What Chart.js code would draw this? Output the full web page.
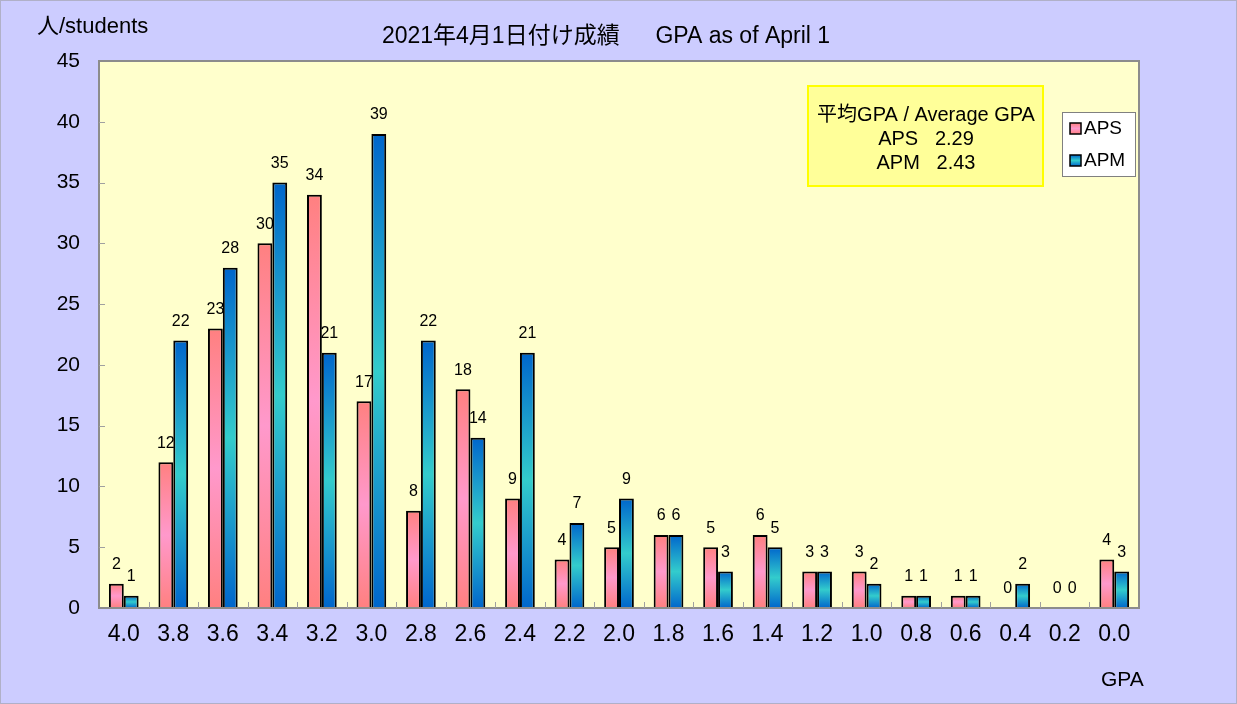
<!DOCTYPE html>
<html>
<head>
<meta charset="utf-8">
<title>GPA as of April 1</title>
<script src="https://cdn.jsdelivr.net/npm/chart.js@4"></script>
<style>
  html, body { margin: 0; padding: 0; background: #ccccff; }
  canvas { display: block; }
</style>
</head>
<body>
<canvas id="gpaChart" width="1237" height="704"></canvas>
<script>
// values
const gpaLabels = ['4.0', '3.8', '3.6', '3.4', '3.2', '3.0', '2.8', '2.6', '2.4', '2.2', '2.0',
                   '1.8', '1.6', '1.4', '1.2', '1.0', '0.8', '0.6', '0.4', '0.2', '0.0'];
const apsCounts = [2, 12, 23, 30, 34, 17, 8, 18, 9, 4, 5, 6, 5, 6, 3, 3, 1, 1, 0, 0, 4];
const apmCounts = [1, 22, 28, 35, 21, 39, 22, 14, 21, 7, 9, 6, 3, 5, 3, 2, 1, 1, 2, 0, 3];
const seriesNames = ['APS', 'APM'];
const averageLines = ['平均GPA / Average GPA', 'APS   2.29', 'APM   2.43'];
const yMax = 45;
const yStep = 5;

const FONT = '"Liberation Sans", Arial, "Noto Sans CJK JP", sans-serif';
const pinkStops = ['#ff8080', '#ff99cc'];
const blueStops = ['#0066cc', '#33cccc'];

// vertical gradient per bar: dark at both ends, light in the middle
const barFill = (stops) => (ctx) => {
    const chart = ctx.chart;
    if (ctx.type !== 'data' || !chart.chartArea) return stops[0];
    const y = chart.scales.y;
    const top = y.getPixelForValue(ctx.raw);
    const base = y.getPixelForValue(0);
    if (base - top < 1) return stops[0];
    const g = chart.ctx.createLinearGradient(0, top, 0, base);
    g.addColorStop(0, stops[0]);
    g.addColorStop(0.5, stops[1]);
    g.addColorStop(1, stops[0]);
    return g;
};

const decorations = {
    id: 'decorations',
    beforeDraw(chart) {
        const c = chart.ctx;
        const a = chart.chartArea;
        c.save();
        c.fillStyle = '#ccccff';
        c.fillRect(0, 0, chart.width, chart.height);
        c.strokeStyle = '#b0b0c8';
        c.lineWidth = 1;
        c.strokeRect(0.5, 0.5, chart.width - 1, chart.height - 1);
        c.fillStyle = '#ffffcc';
        c.fillRect(a.left, a.top, a.right - a.left, a.bottom - a.top);
        c.restore();
    },
    afterDatasetsDraw(chart) {
        const c = chart.ctx;
        c.save();
        c.font = '16px ' + FONT;
        c.fillStyle = '#000';
        c.textAlign = 'center';
        c.textBaseline = 'middle';
        chart.data.datasets.forEach((ds, di) => {
            chart.getDatasetMeta(di).data.forEach((bar, i) => {
                c.fillText(String(ds.data[i]), bar.x, bar.y - 19);
            });
        });
        c.restore();
    },
    afterDraw(chart) {
        const c = chart.ctx;
        const a = chart.chartArea;
        const ys = chart.scales.y;
        c.save();

        // plot frame
        c.strokeStyle = '#8c8c8c';
        c.lineWidth = 2;
        c.strokeRect(a.left, a.top, a.right - a.left, a.bottom - a.top);

        // inward tick marks
        c.lineWidth = 1;
        c.strokeStyle = '#a0a0a0';
        c.beginPath();
        for (let v = yStep; v < yMax; v += yStep) {
            const py = Math.round(ys.getPixelForValue(v)) + 0.5;
            c.moveTo(a.left, py);
            c.lineTo(a.left + 6, py);
        }
        const cw = (a.right - a.left) / gpaLabels.length;
        for (let i = 1; i < gpaLabels.length; i++) {
            const px = Math.round(a.left + i * cw) + 0.5;
            c.moveTo(px, a.bottom);
            c.lineTo(px, a.bottom - 6);
        }
        c.stroke();

        // titles
        c.fillStyle = '#000';
        c.textBaseline = 'middle';
        c.font = '23px ' + FONT;
        c.textAlign = 'center';
        c.fillText('2021年4月1日付け成績　  GPA as of April 1', 606, 37);
        c.textAlign = 'left';
        c.font = '22px ' + FONT;
        c.fillText('人/students', 37, 27);
        c.font = '21px ' + FONT;
        c.fillText('GPA', 1101, 680);

        // average GPA box
        c.fillStyle = '#ffff99';
        c.fillRect(808, 86, 235, 100);
        c.strokeStyle = '#ffff00';
        c.lineWidth = 2;
        c.strokeRect(808, 86, 235, 100);
        c.fillStyle = '#000';
        c.textAlign = 'center';
        c.font = '20px ' + FONT;
        averageLines.forEach((t, i) => c.fillText(t, 926, 115 + i * 24));

        // legend
        c.fillStyle = '#ffffff';
        c.fillRect(1062, 112, 74, 65);
        c.strokeStyle = '#808080';
        c.lineWidth = 1;
        c.strokeRect(1062.5, 112.5, 73, 64);
        [pinkStops, blueStops].forEach((stops, i) => {
            const top = 123 + i * 32;
            const g = c.createLinearGradient(0, top, 0, top + 11);
            g.addColorStop(0, stops[0]);
            g.addColorStop(0.5, stops[1]);
            g.addColorStop(1, stops[0]);
            c.fillStyle = g;
            c.fillRect(1070, top, 11, 11);
            c.strokeStyle = '#000';
            c.lineWidth = 1.5;
            c.strokeRect(1070, top, 11, 11);
            c.fillStyle = '#000';
            c.textAlign = 'left';
            c.font = '19px ' + FONT;
            c.fillText(seriesNames[i], 1084, top + 6);
        });
        c.restore();
    }
};

new Chart(document.getElementById('gpaChart'), {
    type: 'bar',
    data: {
        labels: gpaLabels,
        datasets: [
            {
                label: seriesNames[0],
                data: apsCounts,
                backgroundColor: barFill(pinkStops),
                borderColor: '#000',
                borderWidth: 2,
                categoryPercentage: 0.6,
                barPercentage: 1.0,
            },
            {
                label: seriesNames[1],
                data: apmCounts,
                backgroundColor: barFill(blueStops),
                borderColor: '#000',
                borderWidth: 2,
                categoryPercentage: 0.6,
                barPercentage: 1.0,
            },
        ],
    },
    options: {
        responsive: false,
        animation: false,
        devicePixelRatio: 1,
        layout: { padding: { left: 0, top: 61, right: 98, bottom: 0 } },
        plugins: {
            legend: { display: false },
            title: { display: false },
            tooltip: { enabled: false },
        },
        scales: {
            x: {
                grid: { display: false, drawTicks: false },
                border: { display: false },
                ticks: { color: '#000', font: { size: 23, family: FONT }, padding: 13, maxRotation: 0 },
                afterFit: (s) => { s.height = 96; },
            },
            y: {
                min: 0,
                max: yMax,
                grid: { display: false, drawTicks: false },
                border: { display: false },
                ticks: { stepSize: yStep, color: '#000', font: { size: 21, family: FONT }, padding: 19 },
                afterFit: (s) => { s.width = 99; },
            },
        },
    },
    plugins: [decorations],
});
</script>
</body>
</html>
